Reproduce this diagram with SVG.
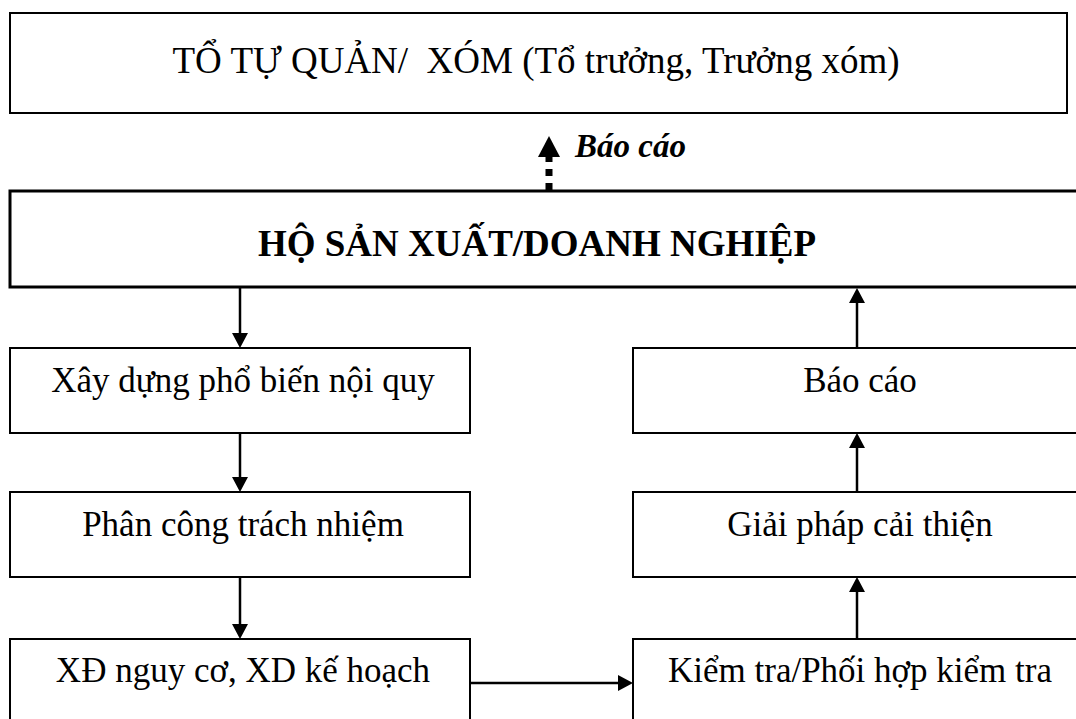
<svg xmlns="http://www.w3.org/2000/svg" width="1076" height="719" viewBox="0 0 1076 719">
  <defs>
    <style>
      .box { fill: #fff; stroke: #000; stroke-width: 2; }
      .main { fill: #fff; stroke: #000; stroke-width: 3; }
      .lbl { font-family: "Liberation Serif", "Times New Roman", serif; font-size: 35px; fill: #000; text-anchor: middle; }
      .big { font-size: 37px; }
      .bold { font-weight: bold; }
      .note { font-family: "Liberation Serif", "Times New Roman", serif; font-size: 33px; font-weight: bold; font-style: italic; fill: #000; }
      .wire { stroke: #000; stroke-width: 2.5; fill: none; marker-end: url(#head); }
      .dots { stroke: #000; stroke-width: 7; stroke-dasharray: 7 7; fill: none; marker-end: url(#headBig); }
    </style>
    <!-- tip sits 10px beyond the line end so the stroke never pokes through -->
    <marker id="head" markerUnits="userSpaceOnUse" markerWidth="16" markerHeight="16" refX="5" refY="8" orient="auto" viewBox="0 0 15 16">
      <path d="M0,0 L15,8 L0,16 z" fill="#000"/>
    </marker>
    <marker id="headBig" markerUnits="userSpaceOnUse" markerWidth="22" markerHeight="22" refX="4" refY="11" orient="auto" viewBox="0 0 21 22">
      <path d="M0,0 L21,11 L0,22 z" fill="#000"/>
    </marker>
  </defs>

  <rect width="1076" height="719" fill="#fff"/>

  <g id="to-tu-quan">
    <rect class="box" x="10" y="13" width="1057" height="100"/>
    <text class="lbl big" x="536" y="73" xml:space="preserve">TỔ TỰ QUẢN/  XÓM (Tổ trưởng, Trưởng xóm)</text>
  </g>

  <g id="ho-san-xuat">
    <rect class="main" x="10" y="191" width="1080" height="96"/>
    <text class="lbl big bold" x="537" y="256">HỘ SẢN XUẤT/DOANH NGHIỆP</text>
  </g>

  <g id="xay-dung">
    <rect class="box" x="10" y="348" width="460" height="85"/>
    <text class="lbl" x="243" y="392">Xây dựng phổ biến nội quy</text>
  </g>

  <g id="phan-cong">
    <rect class="box" x="10" y="492" width="460" height="85"/>
    <text class="lbl" x="243" y="536">Phân công trách nhiệm</text>
  </g>

  <g id="xd-nguy-co">
    <rect class="box" x="10" y="639" width="460" height="100"/>
    <text class="lbl" x="243" y="682">XĐ nguy cơ, XD kế hoạch</text>
  </g>

  <g id="bao-cao">
    <rect class="box" x="633" y="348" width="460" height="85"/>
    <text class="lbl" x="860" y="392">Báo cáo</text>
  </g>

  <g id="giai-phap">
    <rect class="box" x="633" y="492" width="460" height="85"/>
    <text class="lbl" x="860" y="536">Giải pháp cải thiện</text>
  </g>

  <g id="kiem-tra">
    <rect class="box" x="633" y="639" width="460" height="100"/>
    <text class="lbl" x="860" y="682">Kiểm tra/Phối hợp kiểm tra</text>
  </g>

  <g id="connectors">
    <line class="wire" x1="240" y1="288" x2="240" y2="338"/>
    <line class="wire" x1="240" y1="433" x2="240" y2="482"/>
    <line class="wire" x1="240" y1="577" x2="240" y2="629"/>
    <line class="wire" x1="470" y1="683" x2="623" y2="683"/>
    <line class="wire" x1="857" y1="639" x2="857" y2="587"/>
    <line class="wire" x1="857" y1="492" x2="857" y2="443"/>
    <line class="wire" x1="857" y1="348" x2="857" y2="298"/>
    <line class="dots" x1="549" y1="190" x2="549" y2="153"/>
    <text class="note" x="575" y="157">Báo cáo</text>
  </g>
</svg>
